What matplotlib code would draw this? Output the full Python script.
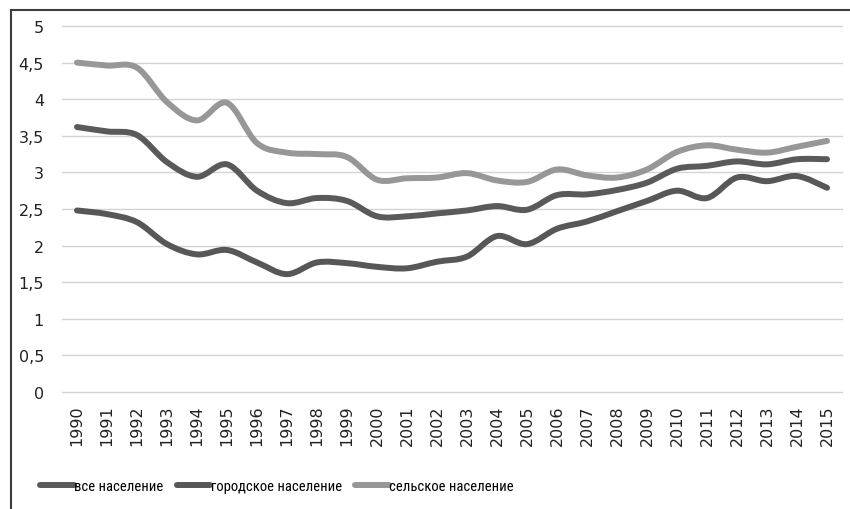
import numpy as np
import matplotlib
matplotlib.use("Agg")
import matplotlib.pyplot as plt
from matplotlib.path import Path
from matplotlib.patches import PathPatch
from matplotlib.lines import Line2D

# --- Data ---
YEARS = [str(y) for y in range(1990, 2016)]

ALL_POP = [3.62, 3.56, 3.51, 3.14, 2.94, 3.11, 2.75, 2.58, 2.65, 2.61, 2.40, 2.40,
           2.44, 2.48, 2.54, 2.49, 2.69, 2.70, 2.76, 2.86, 3.05, 3.09, 3.15, 3.11,
           3.18, 3.18]
URBAN_POP = [2.48, 2.43, 2.32, 2.02, 1.88, 1.94, 1.77, 1.61, 1.77, 1.76, 1.71, 1.69,
             1.78, 1.85, 2.13, 2.02, 2.23, 2.33, 2.47, 2.61, 2.75, 2.65, 2.93, 2.88,
             2.95, 2.79]
RURAL_POP = [4.50, 4.46, 4.43, 3.96, 3.71, 3.95, 3.40, 3.27, 3.25, 3.21, 2.90, 2.92,
             2.93, 2.99, 2.89, 2.87, 3.04, 2.96, 2.93, 3.04, 3.28, 3.37, 3.31, 3.27,
             3.35, 3.43]

LABELS = ["все население", "городское население", "сельское население"]
COLORS = ["#5a5a5a", "#575757", "#979797"]

Y_TICKS = [0, 0.5, 1, 1.5, 2, 2.5, 3, 3.5, 4, 4.5, 5]
Y_TICK_LABELS = ["0", "0,5", "1", "1,5", "2", "2,5", "3", "3,5", "4", "4,5", "5"]


def smooth_path(xs, ys):
    """Bezier path through the points, like Excel's smoothed line."""
    pts = np.column_stack([xs, ys]).astype(float)
    n = len(pts)
    verts = [pts[0]]
    codes = [Path.MOVETO]
    for i in range(n - 1):
        p_prev = pts[max(i - 1, 0)]
        p0 = pts[i]
        p1 = pts[i + 1]
        p_next = pts[min(i + 2, n - 1)]
        c1 = p0 + (p1 - p_prev) / 6.0
        c2 = p1 - (p_next - p0) / 6.0
        verts += [c1, c2, p1]
        codes += [Path.CURVE4] * 3
    return Path(verts, codes)


def plot_chart():
    fig = plt.figure(figsize=(8.5, 5.1), dpi=100)
    ax = fig.add_axes([62 / 850, 1 - 393 / 510, 780 / 850, 366 / 510])

    x = np.arange(len(YEARS))
    series = [ALL_POP, URBAN_POP, RURAL_POP]

    handles = []
    for vals, col, lab in zip(series, COLORS, LABELS):
        patch = PathPatch(smooth_path(x, vals), fill=False, edgecolor=col,
                          linewidth=4.3, capstyle="round", joinstyle="round", zorder=3)
        ax.add_patch(patch)
        handles.append(Line2D([], [], color=col, linewidth=4.3, solid_capstyle="round",
                              label=lab))

    # --- Axes ---
    ax.set_xlim(-0.5, len(YEARS) - 0.5)
    ax.set_ylim(0, 5)
    ax.set_xticks(x)
    ax.set_xticklabels(YEARS, rotation=90, fontsize=11.5, color="#222222")
    ax.set_yticks(Y_TICKS)
    ax.set_yticklabels(Y_TICK_LABELS, fontsize=11.5, color="#222222")
    ax.tick_params(axis="both", length=0)
    ax.tick_params(axis="y", pad=13)
    ax.tick_params(axis="x", pad=9)
    for s in ax.spines.values():
        s.set_visible(False)
    ax.grid(True, axis="y", color="#d4d4d4", linewidth=1.0)
    for gl in ax.get_ygridlines():
        gl.set_clip_on(False)
    ax.set_axisbelow(True)

    # --- Legend ---
    fig.legend(handles=handles, loc="center left", bbox_to_anchor=(40 / 850, 1 - 487 / 510),
               ncol=3, frameon=False, handlelength=2.3, handletextpad=0.05,
               columnspacing=0.9, borderaxespad=0, borderpad=0,
               prop={"family": ["Liberation Sans Narrow", "Roboto Condensed", "Liberation Sans"],
                     "size": 10.5})

    # --- Outer chart border (cropped on right/bottom) ---
    fig.add_artist(Line2D([10.5 / 850, 1], [1 - 10.5 / 510, 1 - 10.5 / 510],
                          color="#3c3c3c", linewidth=1.5))
    fig.add_artist(Line2D([10.5 / 850, 10.5 / 850], [0, 1 - 10.5 / 510],
                          color="#3c3c3c", linewidth=1.5))

    fig.savefig("out.png", dpi=100)


if __name__ == "__main__":
    plot_chart()
